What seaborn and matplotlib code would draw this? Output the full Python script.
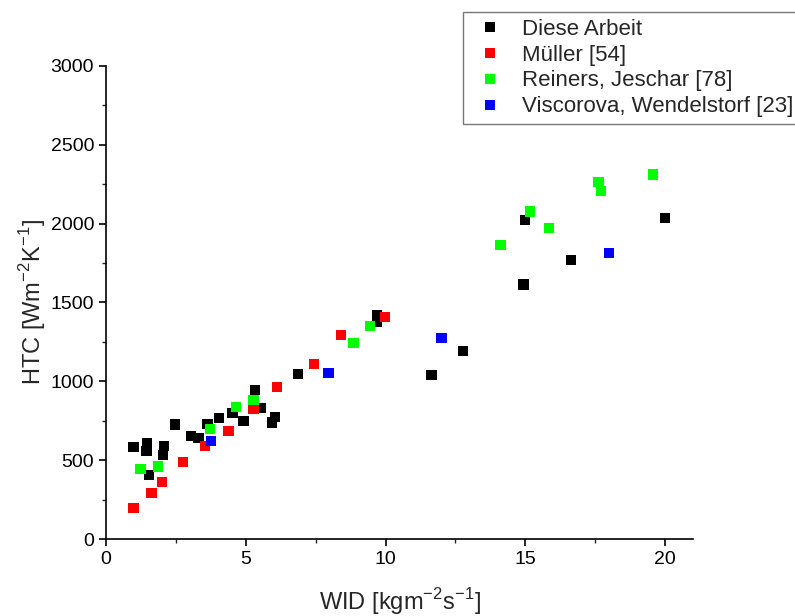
import numpy as np
import pandas as pd
import matplotlib
matplotlib.use("Agg")
import matplotlib.pyplot as plt
from matplotlib.ticker import MultipleLocator
import seaborn as sns

# WID [kg m^-2 s^-1] and HTC [W m^-2 K^-1] per source
diese_wid = [0.98, 1.48, 1.45, 2.07, 2.03, 1.54, 2.46, 3.03, 3.31, 3.63, 4.05, 4.53, 4.92,
             5.32, 5.54, 6.04, 5.94, 6.88, 9.69, 9.69, 15.0, 14.94, 16.64, 20.0, 12.78, 11.64]
diese_htc = [585, 607, 560, 592, 533, 404, 727, 653, 639, 729, 769, 797, 750,
             945, 829, 772, 738, 1047, 1418, 1378, 2021, 1615, 1768, 2036, 1194, 1038]

mueller_wid = [0.98, 1.63, 2.01, 2.75, 3.54, 4.38, 5.28, 6.11, 7.45, 8.42, 9.98]
mueller_htc = [197, 292, 363, 488, 588, 687, 826, 964, 1108, 1296, 1406]

reiners_wid = [1.23, 1.85, 3.71, 4.65, 5.28, 8.86, 9.44, 14.11, 15.18, 15.85, 17.62, 17.70, 19.56]
reiners_htc = [446, 459, 696, 835, 882, 1241, 1351, 1865, 2078, 1972, 2264, 2205, 2311]

visc_wid = [3.75, 7.96, 12.0, 17.99]
visc_htc = [623, 1051, 1273, 1814]

labels = ["Diese Arbeit", "Müller [54]", "Reiners, Jeschar [78]", "Viscorova, Wendelstorf [23]"]
colors = ["#000000", "#ff0000", "#00ff00", "#0000ff"]

df = pd.concat([
    pd.DataFrame({"WID": diese_wid, "HTC": diese_htc, "Quelle": labels[0]}),
    pd.DataFrame({"WID": mueller_wid, "HTC": mueller_htc, "Quelle": labels[1]}),
    pd.DataFrame({"WID": reiners_wid, "HTC": reiners_htc, "Quelle": labels[2]}),
    pd.DataFrame({"WID": visc_wid, "HTC": visc_htc, "Quelle": labels[3]}),
], ignore_index=True)

sns.set_style("ticks")
plt.rcParams["font.family"] = ["Liberation Sans", "DejaVu Sans"]
plt.rcParams["mathtext.fontset"] = "custom"
plt.rcParams["mathtext.rm"] = "Liberation Sans"

fig = plt.figure(figsize=(7.95, 6.16), dpi=100)
ax = fig.add_axes([0.1333, 0.125, 0.7384, 0.7679])

sns.scatterplot(data=df, x="WID", y="HTC", hue="Quelle", hue_order=labels,
                palette=dict(zip(labels, colors)), marker="s", s=55,
                linewidth=0, ax=ax, legend=False, zorder=3)

ax.set_xlim(0, 21)
ax.set_ylim(0, 3000)
ax.xaxis.set_major_locator(MultipleLocator(5))
ax.xaxis.set_minor_locator(MultipleLocator(2.5))
ax.yaxis.set_major_locator(MultipleLocator(500))
ax.yaxis.set_minor_locator(MultipleLocator(250))
ax.tick_params(which="major", length=5, width=1.2, labelsize=14, direction="out", colors="black")
ax.tick_params(which="minor", length=3, width=1.0, direction="out")
for side in ["top", "right"]:
    ax.spines[side].set_visible(False)
for side in ["left", "bottom"]:
    ax.spines[side].set_linewidth(1.2)
    ax.spines[side].set_color("black")

ax.set_xlabel(r"WID [kgm$^{\mathregular{-2}}$s$^{\mathregular{-1}}$]", fontsize=17, labelpad=13)
ax.set_ylabel(r"HTC [Wm$^{\mathregular{-2}}$K$^{\mathregular{-1}}$]", fontsize=17, labelpad=2)

handles = [plt.Line2D([], [], marker="s", linestyle="none", markersize=6.5,
                      markerfacecolor=c, markeredgewidth=0) for c in colors]
leg = fig.legend(handles, labels, loc="upper left", bbox_to_anchor=(463 / 795, 1 - 12 / 616),
                 fontsize=16, frameon=True, fancybox=False, edgecolor="#555555",
                 handletextpad=0.5, labelspacing=0.22, borderpad=0.3, handlelength=1.85,
                 borderaxespad=0)
leg.get_frame().set_linewidth(1.0)

fig.savefig("out.png", dpi=100)
